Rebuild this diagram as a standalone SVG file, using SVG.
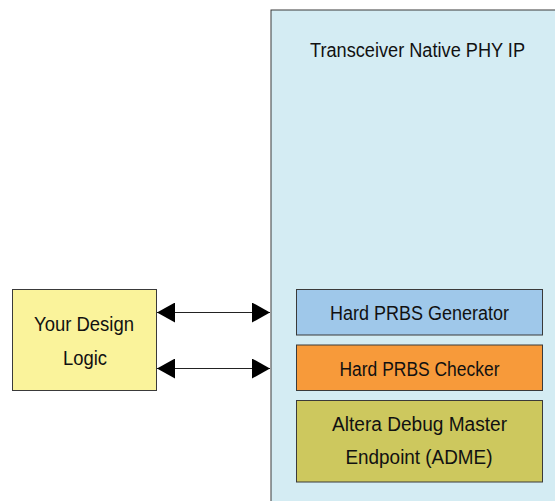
<svg xmlns="http://www.w3.org/2000/svg" width="555" height="501" viewBox="0 0 555 501">
<style>
.t{font-family:"Liberation Sans",Arial,sans-serif;font-size:20px;fill:#111;text-anchor:middle}
.b{stroke:#3a3a3a;stroke-width:1}
.c{stroke:#222;stroke-width:1.2;fill:none}
</style>
<defs>
<marker id="ah" viewBox="0 0 18 20" refX="18" refY="10" markerWidth="18" markerHeight="20" markerUnits="userSpaceOnUse" orient="auto-start-reverse">
<path d="M0,0 L18,10 L0,20 Z" fill="#000"/>
</marker>
</defs>
<rect width="555" height="501" fill="#fff"/>
<g id="phy">
<rect class="b" x="271" y="10" width="290" height="500" fill="#d4ecf3"/>
<text class="t" x="417.5" y="57" textLength="215" lengthAdjust="spacingAndGlyphs">Transceiver Native PHY IP</text>
</g>
<g id="design">
<rect class="b" x="12.5" y="289.5" width="144" height="101" fill="#faf39b"/>
<text class="t" x="84" y="331" textLength="100" lengthAdjust="spacingAndGlyphs">Your Design</text>
<text class="t" x="85" y="365" textLength="44" lengthAdjust="spacingAndGlyphs">Logic</text>
</g>
<g id="gen">
<rect class="b" x="296.5" y="289.5" width="246" height="45.5" fill="#9fc8ea"/>
<text class="t" x="419.5" y="320" textLength="179" lengthAdjust="spacingAndGlyphs">Hard PRBS Generator</text>
</g>
<g id="chk">
<rect class="b" x="296.5" y="345" width="246" height="45.5" fill="#f79a3a"/>
<text class="t" x="419.5" y="375.5" textLength="160" lengthAdjust="spacingAndGlyphs">Hard PRBS Checker</text>
</g>
<g id="adme">
<rect class="b" x="296.5" y="400.5" width="246" height="81.5" fill="#cdc85e"/>
<text class="t" x="419.5" y="430.5" textLength="175" lengthAdjust="spacingAndGlyphs">Altera Debug Master</text>
<text class="t" x="419" y="464" textLength="147" lengthAdjust="spacingAndGlyphs">Endpoint (ADME)</text>
</g>
<g id="connectors">
<line class="c" x1="157" y1="312.5" x2="270" y2="312.5" marker-start="url(#ah)" marker-end="url(#ah)"/>
<line class="c" x1="157" y1="368.5" x2="270" y2="368.5" marker-start="url(#ah)" marker-end="url(#ah)"/>
</g>
</svg>
